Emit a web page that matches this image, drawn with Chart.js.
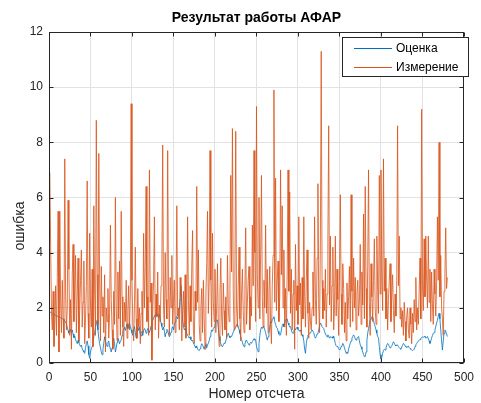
<!DOCTYPE html>
<html><head><meta charset="utf-8">
<script src="https://cdn.jsdelivr.net/npm/chart.js@4.4.1/dist/chart.umd.min.js"></script>
<style>html,body{margin:0;padding:0;background:#fff}canvas{display:block}</style>
</head><body>
<canvas id="c" width="481" height="403"></canvas>
<script>
const chartTitle = 'Результат работы АФАР';
const xAxisTitle = 'Номер отсчета';
const yAxisTitle = 'ошибка';
const seriesNames = ['Оценка', 'Измерение'];
const seriesColors = ['#0072BD', '#D95319'];
const xTicks = [0, 50, 100, 150, 200, 250, 300, 350, 400, 450, 500];
const yTicks = [0, 2, 4, 6, 8, 10, 12];

const estimate = [
1.86,1.84,1.81,1.79,1.78,1.75,1.74,1.72,1.71,1.70,1.68,1.67,1.66,1.64,1.63,1.61,1.58,1.56,1.53,1.50,
1.42,1.30,1.18,1.08,1.15,1.22,1.10,1.20,1.05,0.92,0.98,0.85,0.78,0.70,0.82,0.74,0.66,0.60,0.65,0.52,
0.45,0.40,0.35,0.55,0.70,0.80,0.62,0.30,0.17,0.40,0.52,0.60,0.75,0.95,1.10,1.30,1.42,1.55,1.20,0.90,
0.70,0.55,0.40,0.30,0.50,0.72,0.95,0.80,0.68,0.60,0.75,0.80,0.62,0.50,0.40,0.55,0.80,0.90,0.70,0.40,
0.55,0.75,0.90,0.82,0.70,0.78,0.85,1.00,1.15,1.22,1.30,1.18,1.30,1.42,1.25,1.35,1.45,1.32,1.20,1.10,
1.00,1.20,1.32,1.10,0.90,1.05,1.30,1.18,1.30,1.05,0.98,1.15,1.00,1.18,1.25,1.20,1.08,1.15,1.25,1.20,
1.10,1.20,1.35,1.50,1.55,1.62,1.70,1.75,1.68,1.80,1.72,1.65,1.78,1.60,1.45,1.32,1.20,1.30,1.15,0.95,
1.10,1.22,1.18,1.05,0.95,1.00,1.12,1.25,1.32,1.20,1.38,1.50,1.62,1.68,1.60,1.72,1.90,2.30,2.80,2.10,
1.50,1.35,1.20,1.25,1.15,1.08,1.00,0.96,0.90,0.95,0.85,0.80,0.83,0.72,0.66,0.60,0.55,0.62,0.50,0.47,
0.45,0.52,0.60,0.70,0.65,0.58,0.50,0.62,0.70,0.55,0.65,0.72,0.80,0.95,1.08,1.20,1.15,1.25,1.30,1.40,
1.50,1.55,1.56,1.30,0.96,0.80,0.70,0.62,0.59,0.66,0.72,0.71,0.80,0.92,1.00,1.08,0.98,0.92,0.96,0.96,
1.05,1.12,1.20,1.20,1.30,1.38,1.42,1.32,1.20,1.08,0.95,0.85,0.75,0.65,0.59,0.68,0.80,0.83,0.75,0.71,
0.65,0.71,0.75,0.71,0.78,0.83,0.88,0.83,0.83,0.60,0.50,0.41,0.70,1.00,1.20,1.30,1.25,1.32,1.30,1.20,
1.10,0.96,0.83,0.95,1.10,1.30,1.50,1.45,1.58,1.62,1.68,1.50,1.40,1.30,1.26,1.15,1.05,1.00,1.02,1.20,
1.35,1.42,1.32,1.45,1.55,1.60,1.60,1.45,1.38,1.30,1.32,1.20,1.10,1.08,1.15,1.25,1.20,1.26,1.30,1.22,
1.20,1.15,1.20,1.10,1.02,0.96,0.80,0.50,0.35,0.70,0.90,1.00,1.05,1.08,1.08,1.15,1.20,1.20,1.10,0.96,
0.90,0.96,1.05,1.08,1.20,1.35,1.45,1.40,1.32,1.32,1.25,1.15,1.05,1.00,0.95,1.02,0.96,0.90,0.96,0.92,
0.95,0.90,0.98,0.85,0.70,0.62,0.59,0.60,0.52,0.47,0.50,0.60,0.62,0.71,0.65,0.55,0.45,0.35,0.40,0.35,
0.50,0.62,0.71,0.80,0.90,0.96,1.02,0.96,0.88,0.83,0.90,0.92,0.96,0.80,0.66,0.59,0.50,0.40,0.30,0.23,
0.23,0.40,0.80,1.08,1.25,1.40,1.55,1.60,1.68,1.68,1.55,1.40,1.32,1.20,1.08,0.96,0.90,0.60,0.30,0.15,
0.20,0.35,0.45,0.50,0.47,0.55,0.65,0.71,0.68,0.60,0.55,0.59,0.62,0.70,0.77,0.72,0.65,0.62,0.66,0.65,
0.60,0.55,0.52,0.50,0.58,0.64,0.71,0.68,0.62,0.59,0.55,0.59,0.62,0.55,0.52,0.50,0.47,0.45,0.47,0.50,
0.60,0.66,0.71,0.75,0.80,0.83,0.85,0.90,0.92,0.95,0.93,0.95,0.98,0.90,0.92,0.96,0.88,0.80,0.71,0.80,
0.90,1.00,1.08,1.10,1.20,1.32,1.45,1.55,1.70,1.80,1.60,1.20,0.80,0.47,0.80,1.08,1.20,1.15,1.05,0.96
];

const measurement = [
6.9,4.2,1.8,1.2,2.6,0.6,1.4,2.8,1.0,3.1,5.5,0.4,5.5,2.2,1.1,3.0,1.6,0.9,7.4,2.5,
1.2,2.0,5.9,3.4,1.0,2.3,0.5,3.2,4.3,1.5,2.6,3.9,1.1,2.4,3.8,0.8,1.9,3.0,4.1,1.3,
2.2,3.7,0.7,1.6,2.8,6.6,1.8,0.9,4.7,2.1,1.3,3.4,0.6,5.7,2.5,1.0,8.8,3.2,1.4,7.6,
2.9,0.8,3.5,1.7,2.4,1.1,3.2,0.4,2.0,1.5,2.7,0.9,1.8,5.0,2.3,1.2,0.5,2.6,1.4,6.0,
2.1,0.8,3.3,1.6,3.7,1.0,5.5,2.4,1.3,0.6,2.2,1.5,3.0,0.9,1.9,2.8,1.2,2.5,9.4,3.0,
1.4,0.8,2.2,4.2,1.6,0.9,2.7,1.3,2.0,0.7,1.8,2.6,1.1,4.7,2.0,3.5,6.4,1.5,2.4,1.0,
7.0,2.2,2.9,0.1,1.8,3.0,5.3,1.2,2.5,1.7,3.3,0.9,2.1,1.5,2.8,3.6,7.9,2.0,1.3,4.0,
2.3,1.6,7.7,2.6,1.0,3.1,2.0,3.9,1.4,2.2,3.0,1.1,2.5,5.7,1.7,2.0,1.2,3.1,2.4,0.8,
1.9,2.6,1.3,3.2,0.9,1.8,5.3,2.3,1.0,2.8,1.5,3.5,4.8,1.2,0.7,2.6,1.9,6.4,2.2,4.1,
1.4,0.8,2.0,2.7,1.1,3.0,1.6,0.5,2.4,3.6,5.5,1.8,2.9,7.7,3.0,1.3,4.7,2.2,1.5,3.4,
1.1,2.0,3.6,1.4,0.6,2.5,3.8,1.7,1.0,2.9,1.9,1.2,2.4,0.9,3.9,2.1,1.5,2.7,6.8,3.3,
8.5,2.6,1.2,3.4,8.4,2.0,1.3,2.8,4.2,1.6,0.8,2.5,3.4,1.9,1.1,2.6,4.9,1.4,2.2,3.0,
3.5,1.2,2.4,1.7,5.0,2.8,7.7,4.0,1.5,9.3,3.2,2.0,6.0,1.6,4.0,6.8,2.4,1.3,3.0,2.0,
5.0,1.8,3.4,1.1,2.6,3.5,1.4,0.7,2.8,3.9,9.9,2.2,6.7,1.9,3.0,3.7,1.5,2.4,7.0,3.2,
5.7,2.0,4.1,1.3,2.7,1.0,3.3,7.0,2.6,6.2,1.8,3.4,1.2,2.5,3.0,0.5,4.3,1.9,2.8,1.4,
5.3,2.1,2.9,1.0,3.1,1.6,5.3,2.4,1.3,3.0,4.1,1.8,0.9,2.2,1.5,1.2,2.0,3.3,1.7,5.3,
2.3,1.4,3.8,6.5,2.0,1.1,4.5,11.3,3.0,1.6,2.7,1.9,3.4,1.3,2.5,4.4,8.6,2.1,4.6,1.5,
2.8,4.2,1.2,2.0,4.6,1.7,3.4,2.3,1.0,3.0,6.1,2.5,1.4,3.6,2.7,1.1,2.2,0.8,2.9,1.6,
2.4,3.5,1.3,6.1,2.6,1.5,3.8,2.0,3.1,1.2,2.5,3.0,1.7,2.2,4.3,1.4,3.3,2.1,5.4,1.6,
6.4,2.7,1.3,3.5,7.0,2.2,1.0,3.6,2.4,1.5,3.0,4.5,2.0,1.4,4.6,2.8,1.8,6.8,2.5,7.0,
3.2,1.9,7.4,2.6,3.8,1.6,2.7,1.2,2.3,3.0,3.6,1.5,2.4,3.2,1.9,1.1,2.5,1.7,3.0,8.6,
2.8,4.6,1.6,2.0,1.3,1.9,1.0,2.2,1.5,0.8,1.7,2.0,1.2,0.9,2.0,1.4,0.7,1.8,1.1,2.3,
1.5,3.1,1.2,2.0,1.4,2.6,3.8,1.6,9.2,2.8,1.9,4.5,2.4,4.6,3.0,2.0,4.6,2.2,3.4,1.5,
3.3,2.1,1.4,3.4,2.5,1.7,2.9,5.3,3.0,8.0,2.4,3.9,2.0,1.6,1.0,2.6,3.2,4.9,2.7,3.1
];

const FONT = '"Liberation Sans", Arial, Helvetica, sans-serif';
const AXIS_COLOR = '#262626';
Chart.defaults.font.family = FONT;

function toPoints(arr) { return arr.map((v, i) => ({ x: i + 1, y: v })); }

const matlabPlugin = {
  id: 'matlabBox',
  afterDatasetsDraw(chart) {
    const { ctx, chartArea: a, scales } = chart;
    const x = scales.x, y = scales.y;
    const L = Math.round(a.left) + 0.5, R = Math.round(a.right) - 0.5;
    const T = Math.round(a.top) + 0.5, B = Math.round(a.bottom) - 0.5;
    ctx.save();
    ctx.strokeStyle = AXIS_COLOR;
    ctx.lineWidth = 1;
    ctx.strokeRect(L, T, R - L, B - T);
    const tl = 4;
    ctx.beginPath();
    x.ticks.forEach(t => {
      const px = Math.round(x.getPixelForValue(t.value)) + 0.5;
      ctx.moveTo(px, B); ctx.lineTo(px, B - tl);
      ctx.moveTo(px, T); ctx.lineTo(px, T + tl);
    });
    y.ticks.forEach(t => {
      const py = Math.round(y.getPixelForValue(t.value)) + 0.5;
      ctx.moveTo(L, py); ctx.lineTo(L + tl, py);
      ctx.moveTo(R, py); ctx.lineTo(R - tl, py);
    });
    ctx.stroke();
    ctx.fillStyle = '#000';
    ctx.font = 'bold 14px ' + FONT;
    ctx.textAlign = 'center';
    ctx.textBaseline = 'middle';
    ctx.fillText(chartTitle, (a.left + a.right) / 2, 18);
    // y axis title
    ctx.save();
    ctx.translate(20, 226);
    ctx.rotate(-Math.PI / 2);
    ctx.fillStyle = AXIS_COLOR;
    ctx.font = '14px ' + FONT;
    ctx.fillText(yAxisTitle, 0, 0);
    ctx.restore();
    ctx.restore();
  },
  afterDraw(chart) {
    const ctx = chart.ctx;
    const ds = chart.data.datasets;
    const bx = 342.5, by = 37.5, bw = 126, bh = 39;
    ctx.save();
    ctx.fillStyle = '#fff';
    ctx.fillRect(bx, by, bw, bh);
    ctx.strokeStyle = AXIS_COLOR;
    ctx.lineWidth = 1;
    ctx.strokeRect(bx, by, bw, bh);
    ctx.font = '12px ' + FONT;
    ctx.textAlign = 'left';
    ctx.textBaseline = 'middle';
    const rows = [48, 67];
    ds.forEach((d, i) => {
      const yy = rows[i] + 0.5;
      ctx.strokeStyle = d.borderColor;
      ctx.beginPath(); ctx.moveTo(354, yy); ctx.lineTo(392, yy); ctx.stroke();
      ctx.fillStyle = '#000';
      ctx.fillText(d.label, 396, rows[i] + 0.5);
    });
    ctx.restore();
  }
};

new Chart(document.getElementById('c'), {
  type: 'line',
  data: {
    datasets: [
      { label: seriesNames[0], data: toPoints(estimate), borderColor: seriesColors[0], borderWidth: 0.8, pointRadius: 0, tension: 0, fill: false, order: 1 },
      { label: seriesNames[1], data: toPoints(measurement), borderColor: seriesColors[1], borderWidth: 0.8, pointRadius: 0, tension: 0, fill: false, order: 0 }
    ]
  },
  options: {
    responsive: false,
    animation: false,
    devicePixelRatio: 1,
    layout: { padding: { top: 32, right: 10, left: 0, bottom: 0 } },
    plugins: { legend: { display: false }, title: { display: false }, tooltip: { enabled: false } },
    scales: {
      x: {
        type: 'linear', min: 0, max: 500,
        afterFit(s) { s.height = 40; },
        afterBuildTicks(s) { s.ticks = xTicks.map(v => ({ value: v })); },
        grid: { color: '#e2e2e2', drawTicks: false },
        border: { display: false },
        ticks: { color: AXIS_COLOR, font: { size: 12 }, padding: 7, maxRotation: 0, autoSkip: false },
        title: { display: true, text: xAxisTitle, color: AXIS_COLOR, font: { size: 14 }, padding: { top: 0, bottom: 0 } }
      },
      y: {
        type: 'linear', min: 0, max: 12,
        afterFit(s) { s.width = 49; },
        afterBuildTicks(s) { s.ticks = yTicks.map(v => ({ value: v })); },
        grid: { color: '#e2e2e2', drawTicks: false },
        border: { display: false },
        ticks: { color: AXIS_COLOR, font: { size: 12 }, padding: 6, autoSkip: false },
        title: { display: false }
      }
    }
  },
  plugins: [matlabPlugin]
});
</script>
</body></html>
